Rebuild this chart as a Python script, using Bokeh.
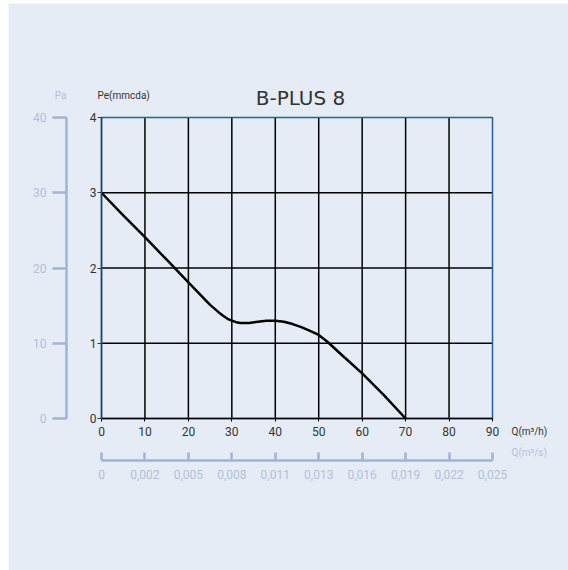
from bokeh.plotting import figure
from bokeh.models import LinearAxis, Range1d, FixedTicker, Label, Spacer
from bokeh.layouts import column, row
from bokeh.embed import file_html
from bokeh.resources import INLINE

# ---- data ----
q_m3h = [0, 5, 10, 15, 20, 24, 25, 26, 27, 28, 29, 30, 31, 32, 33, 34, 36, 38, 40,
         42, 44, 46, 48, 50, 52, 55, 60, 65, 70]
pe_mmcda = [3.0, 2.70, 2.41, 2.11, 1.81, 1.57, 1.51, 1.46, 1.41, 1.365, 1.325, 1.30, 1.28,
            1.27, 1.268, 1.27, 1.285, 1.30, 1.30, 1.285, 1.255, 1.215, 1.165, 1.11, 1.02,
            0.86, 0.60, 0.31, 0.0]
x_ticks = [0, 10, 20, 30, 40, 50, 60, 70, 80, 90]
y_ticks = [0, 1, 2, 3, 4]
pa_ticks = [0, 10, 20, 30, 40]
pa_per_mmcda = 10
qs_labels = ["0", "0,002", "0,005", "0,008", "0,011", "0,013", "0,016", "0,019", "0,022", "0,025"]
title = "B-PLUS 8"

FONT = "Roboto"
BG = "#e6ecf6"
DARK = "#333333"
LIGHT = "#b3bfdb"
LIGHT_LINE = "#a3b3d4"
FRAME_BLUE = "#2b5e94"

# ---- layout geometry (page pixels) ----
W, H = 560, 567          # figure size
OX, OY = 8, 3            # figure offset on page
PX0, PX1 = 101, 492      # plot box left/right (page px)
PY0, PY1 = 418, 117      # plot box bottom/top (page px)
XS = (PX1 - PX0) / (x_ticks[-1] - x_ticks[0])
YS = (PY0 - PY1) / (y_ticks[-1] - y_ticks[0])


def cx(px):
    return x_ticks[0] + (px - PX0) / XS


def cy(py):
    return y_ticks[0] + (PY0 - py) / YS


p = figure(width=W, height=H, frame_width=W, frame_height=H,
           x_range=Range1d(cx(OX), cx(OX + W)), y_range=Range1d(cy(OY + H), cy(OY)),
           output_backend="svg", toolbar_location=None, min_border=0,
           background_fill_color=BG, border_fill_color=BG)
p.outline_line_color = None
p.grid.visible = False

# plot box and grid
n_in_x = len(x_ticks) - 2
n_in_y = len(y_ticks) - 2
p.segment(x0=x_ticks[1:-1], y0=[y_ticks[0]] * n_in_x, x1=x_ticks[1:-1], y1=[y_ticks[-1]] * n_in_x,
          line_color="black", line_width=1.5)
p.segment(x0=[x_ticks[0]] * n_in_y, y0=y_ticks[1:-1], x1=[x_ticks[-1]] * n_in_y, y1=y_ticks[1:-1],
          line_color="black", line_width=1.5)
p.quad(left=[x_ticks[0]], right=[x_ticks[-1]], bottom=[y_ticks[0]], top=[y_ticks[-1]],
       fill_alpha=0, line_color=FRAME_BLUE, line_width=1.5)

# curve
p.line(q_m3h, pe_mmcda, line_color="black", line_width=2.5, line_join="round")

# primary axes
xa = p.xaxis[0]
xa.ticker = FixedTicker(ticks=x_ticks)
xa.fixed_location = y_ticks[0]
xa.bounds = (x_ticks[0], x_ticks[-1])
ya = p.yaxis[0]
ya.ticker = FixedTicker(ticks=y_ticks)
ya.fixed_location = x_ticks[0]
ya.bounds = (y_ticks[0], y_ticks[-1])
for ax in (xa, ya):
    ax.minor_tick_line_color = None
    ax.major_tick_in = 0
    ax.major_label_text_font = FONT
    ax.major_label_text_font_size = "12px"
    ax.major_label_text_color = DARK
xa.major_tick_out = 3
xa.major_label_standoff = 5
xa.axis_line_color = "black"
xa.axis_line_width = 1.5
xa.major_tick_line_color = "black"
ya.major_tick_out = 4
ya.major_label_standoff = 1
ya.axis_line_color = "#24405e"
ya.axis_line_width = 1.5
ya.major_tick_line_color = "#24405e"

# Pa axis
p.extra_y_ranges = {"pa": Range1d(cy(OY + H) * pa_per_mmcda, cy(OY) * pa_per_mmcda)}
pa_axis = LinearAxis(y_range_name="pa", ticker=FixedTicker(ticks=pa_ticks),
                     fixed_location=cx(66), bounds=(pa_ticks[0], pa_ticks[-1]))
pa_axis.axis_line_color = LIGHT_LINE
pa_axis.axis_line_width = 2.5
pa_axis.major_tick_line_color = LIGHT_LINE
pa_axis.major_tick_line_width = 2.5
pa_axis.major_tick_in = 0
pa_axis.major_tick_out = 14
pa_axis.minor_tick_line_color = None
pa_axis.major_label_standoff = 6
pa_axis.major_label_text_font = FONT
pa_axis.major_label_text_font_size = "12px"
pa_axis.major_label_text_color = LIGHT
p.add_layout(pa_axis, "left")

# m3/s axis
qs_axis = LinearAxis(ticker=FixedTicker(ticks=x_ticks),
                     major_label_overrides={t: s for t, s in zip(x_ticks, qs_labels)},
                     fixed_location=cy(460), bounds=(x_ticks[0], x_ticks[-1]))
qs_axis.axis_line_color = LIGHT_LINE
qs_axis.axis_line_width = 2.5
qs_axis.major_tick_line_color = LIGHT_LINE
qs_axis.major_tick_line_width = 2.5
qs_axis.major_tick_in = 8
qs_axis.major_tick_out = 0
qs_axis.minor_tick_line_color = None
qs_axis.major_label_standoff = 9
qs_axis.major_label_text_font = FONT
qs_axis.major_label_text_font_size = "12px"
qs_axis.major_label_text_color = LIGHT
p.add_layout(qs_axis, "below")


# texts
def lab(px, py, text, color, align, size="10px", font=FONT):
    p.add_layout(Label(x=cx(px), y=cy(py), text=text, text_font=font,
                       text_font_size=size, text_color=color,
                       text_baseline="middle", text_align=align))


lab(300, 97, title, DARK, "center", size="20px", font="DejaVu Sans")
lab(97, 95, "Pe(mmcda)", DARK, "left")
lab(66, 95, "Pa", LIGHT, "right")
lab(511, 431, "Q(m³/h)", DARK, "left")
lab(511, 452, "Q(m³/s)", LIGHT, "left")

layout = column(Spacer(height=OY), row(Spacer(width=OX), p))
open("out.html", "w").write(file_html(layout, INLINE))
